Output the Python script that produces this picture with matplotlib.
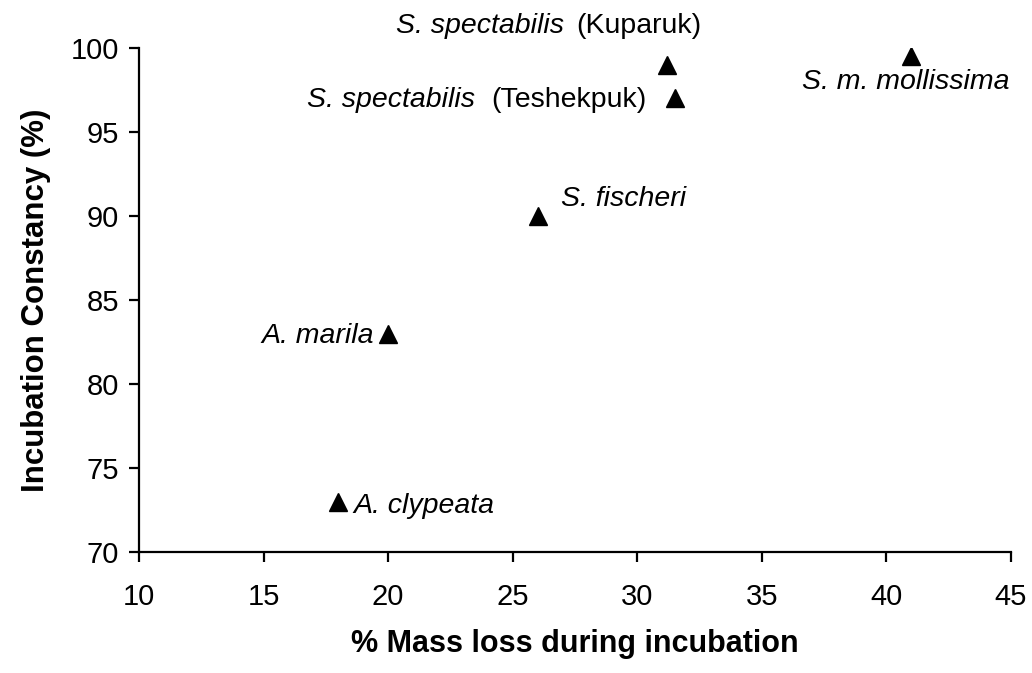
import matplotlib
matplotlib.use('Agg')
import matplotlib.pyplot as plt

plt.rcParams['font.family'] = ['Liberation Sans', 'DejaVu Sans']

# species data
species_italic = ['A. clypeata', 'A. marila', 'S. fischeri', 'S. spectabilis',
                  'S. spectabilis', 'S. m. mollissima']
species_site = ['', '', '', '(Kuparuk)', '(Teshekpuk)', '']
mass_loss = [18.0, 20.0, 26.0, 31.2, 31.5, 41.0]
constancy = [73.0, 83.0, 90.0, 99.0, 97.0, 99.5]

# label placement: offset from the marker in points, horizontal alignment
label_offset = [(11, -8), (-10, -6.5), (17, 7), (24.5, 23), (-20, -6.5), (-4, -23.5)]
label_ha = ['left', 'right', 'left', 'right', 'right', 'center']
site_gap = [0, 0, 0, 9, 12, 0]

fig = plt.figure(figsize=(10.32, 6.73), dpi=100)
ax = fig.add_axes([0.1347, 0.1798, 0.8450, 0.7489])

ax.plot(mass_loss, constancy, linestyle='none', marker='^', color='black', markersize=13.5)

LABEL_SIZE = 20.5
for x, y, it, site, off, ha, gap in zip(mass_loss, constancy, species_italic, species_site,
                                        label_offset, label_ha, site_gap):
    if site:
        t = ax.annotate(site, (x, y), xytext=off, textcoords='offset points',
                        ha=ha, va='baseline', fontsize=LABEL_SIZE, annotation_clip=False)
        ax.annotate(it, xy=(0, 0), xycoords=t, xytext=(-gap, 0), textcoords='offset points',
                    ha='right', va='bottom', fontsize=LABEL_SIZE, fontstyle='italic')
    else:
        ax.annotate(it, (x, y), xytext=off, textcoords='offset points',
                    ha=ha, va='baseline', fontsize=LABEL_SIZE, fontstyle='italic',
                    annotation_clip=False)

ax.set_xlim(10, 45)
ax.set_ylim(70, 100)
ax.set_xticks(range(10, 46, 5))
ax.set_yticks(range(70, 101, 5))

for side in ['top', 'right']:
    ax.spines[side].set_visible(False)
for side in ['left', 'bottom']:
    ax.spines[side].set_linewidth(1.6)
    ax.spines[side].set_color('black')

ax.tick_params(direction='out', length=7.5, width=1.6, labelsize=21, colors='black')
ax.tick_params(axis='x', pad=15)
ax.tick_params(axis='y', pad=7)
ax.set_xlabel('% Mass loss during incubation', fontsize=22, fontweight='bold', labelpad=13)
ax.set_ylabel('Incubation Constancy (%)', fontsize=22.5, fontweight='bold', labelpad=14)

fig.savefig('out.png', dpi=100)
